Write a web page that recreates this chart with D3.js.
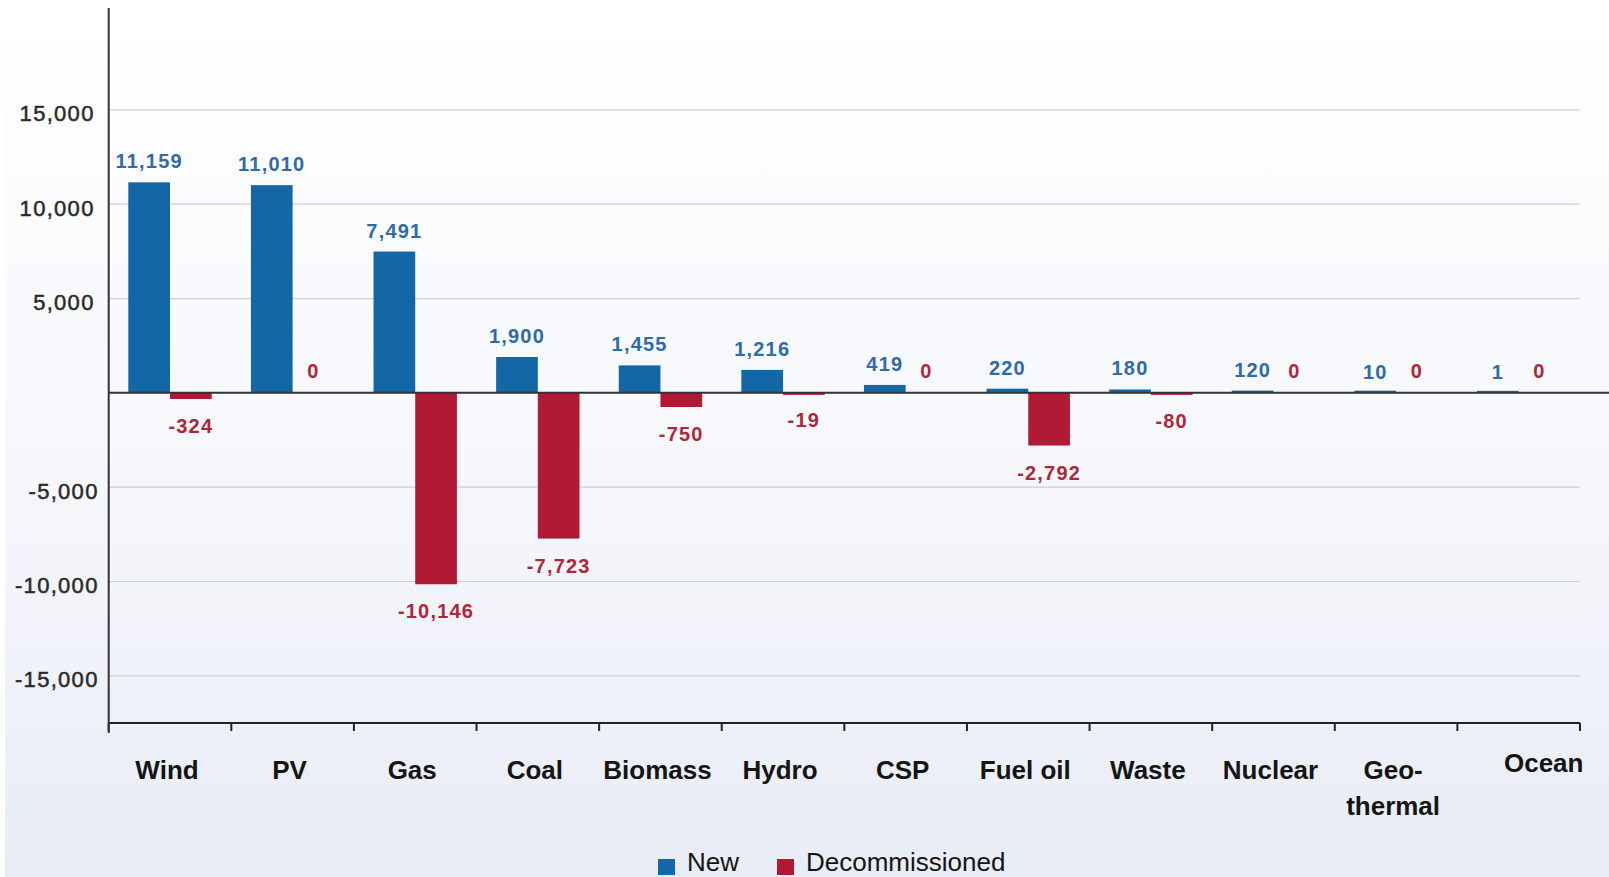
<!DOCTYPE html>
<html>
<head>
<meta charset="utf-8">
<script src="https://cdn.jsdelivr.net/npm/d3@7/dist/d3.min.js"></script>
<style>
  html, body { margin: 0; padding: 0; background: #ffffff; }
  svg { display: block; }
</style>
</head>
<body>
<script>
// ---- data ----
const categories = ["Wind", "PV", "Gas", "Coal", "Biomass", "Hydro", "CSP", "Fuel oil", "Waste", "Nuclear", "Geo-\nthermal", "Ocean"];
const newValues = [11159, 11010, 7491, 1900, 1455, 1216, 419, 220, 180, 120, 10, 1];
const decommissionedValues = [-324, 0, -10146, -7723, -750, -19, 0, -2792, -80, 0, 0, 0];
const tickValues = [-15000, -10000, -5000, 5000, 10000, 15000];
const seriesNames = ["New", "Decommissioned"];

(function () {
// ---- layout ----
const W = 1609, H = 877;
const plotLeft = 108.7, plotRight = 1580, plotTop = 8, plotBottom = 723;
const blue = "#1467a6", red = "#b01a35";
const blueText = "#2e6ba7", redText = "#b02639";
const fmt = d3.formatLocale({ decimal: ".", thousands: ",", grouping: [3], currency: ["", ""], minus: "-" }).format(",");

const svg = d3.select("body").append("svg").attr("width", W).attr("height", H);

const defs = svg.append("defs");
const grad = defs.append("linearGradient").attr("id", "bg").attr("x1", 0).attr("y1", 0).attr("x2", 0).attr("y2", 1);
grad.append("stop").attr("offset", "0").attr("stop-color", "#ffffff");
grad.append("stop").attr("offset", "0.2").attr("stop-color", "#fcfcfe");
grad.append("stop").attr("offset", "0.55").attr("stop-color", "#f5f7fb");
grad.append("stop").attr("offset", "1").attr("stop-color", "#e8ecf5");
svg.append("rect").attr("x", 5).attr("y", 0).attr("width", W - 5).attr("height", H).attr("fill", "url(#bg)");

const y = d3.scaleLinear().domain([-17500, 20400]).range([plotBottom, plotTop]);
const x = d3.scaleBand().domain(categories).range([plotLeft, plotRight]).paddingInner(0).paddingOuter(0);
const bw = x.bandwidth();
const x1 = d3.scaleBand().domain(seriesNames).range([bw * 0.16, bw * 0.84]).padding(0);

// gridlines
svg.append("g").selectAll("line").data(tickValues).join("line")
  .attr("x1", plotLeft).attr("x2", plotRight)
  .attr("y1", d => y(d)).attr("y2", d => y(d))
  .attr("stroke", "#c9cfdb").attr("stroke-width", 1.2);

// y tick labels
svg.append("g").selectAll("text").data(tickValues).join("text")
  .attr("x", d => d > 0 ? plotLeft - 14 : plotLeft - 10)
  .attr("y", d => y(d) + 11.5)
  .attr("text-anchor", "end")
  .attr("font-family", "'Liberation Sans', Arial, sans-serif")
  .attr("font-size", 22)
  .attr("letter-spacing", 1.3)
  .attr("fill", "#2a2a2a")
  .attr("stroke", "#2a2a2a").attr("stroke-width", 0.5)
  .text(d => fmt(d));

// bars
const groups = svg.append("g").selectAll("g").data(categories).join("g")
  .attr("transform", d => `translate(${x(d)},0)`);

groups.append("rect")
  .attr("x", x1("New")).attr("width", x1.bandwidth())
  .attr("y", (d, i) => y(Math.max(0, newValues[i])) - (Math.abs(y(newValues[i]) - y(0)) < 2 ? 2 : 0))
  .attr("height", (d, i) => Math.max(2, Math.abs(y(newValues[i]) - y(0))))
  .attr("fill", blue);

groups.append("rect")
  .attr("x", x1("Decommissioned")).attr("width", x1.bandwidth())
  .attr("y", y(0))
  .attr("height", (d, i) => decommissionedValues[i] < 0 ? Math.max(2, Math.abs(y(decommissionedValues[i]) - y(0))) : 0)
  .attr("fill", red);

// value labels
const labelFont = "'Liberation Sans', Arial, sans-serif";
groups.append("text")
  .attr("x", x1("New") + x1.bandwidth() / 2)
  .attr("y", (d, i) => y(newValues[i]) - 14)
  .attr("text-anchor", "middle")
  .attr("font-family", labelFont).attr("font-weight", "bold").attr("font-size", 20)
  .attr("letter-spacing", 1.2)
  .attr("fill", blueText)
  .text((d, i) => fmt(newValues[i]));

groups.append("text")
  .attr("x", x1("Decommissioned") + x1.bandwidth() / 2)
  .attr("y", (d, i) => decommissionedValues[i] < 0 ? y(decommissionedValues[i]) + 34 : y(0) - 15)
  .attr("text-anchor", "middle")
  .attr("font-family", labelFont).attr("font-weight", "bold").attr("font-size", 20)
  .attr("letter-spacing", 1.2)
  .attr("fill", redText)
  .text((d, i) => fmt(decommissionedValues[i]));

// zero line
svg.append("line")
  .attr("x1", plotLeft).attr("x2", W).attr("y1", y(0)).attr("y2", y(0))
  .attr("stroke", "#333").attr("stroke-width", 2);

// bottom axis
const xAxis = svg.append("g").attr("transform", `translate(0,${plotBottom})`);
xAxis.append("line").attr("x1", plotLeft).attr("x2", plotRight).attr("y1", 0).attr("y2", 0)
  .attr("stroke", "#222").attr("stroke-width", 2);
const tickPositions = categories.map(c => x(c) + bw).concat([plotLeft]);
xAxis.selectAll("line.tick").data(tickPositions).join("line").attr("class", "tick")
  .attr("x1", d => d).attr("x2", d => d).attr("y1", 0).attr("y2", 8)
  .attr("stroke", "#222").attr("stroke-width", 2);

// category labels
const catLabels = svg.append("g").selectAll("text").data(categories).join("text")
  .attr("text-anchor", "middle")
  .attr("font-family", labelFont).attr("font-weight", "bold").attr("font-size", 26)
  .attr("fill", "#151515")
  .attr("transform", (d, i) => {
    const last = i === categories.length - 1;
    return `translate(${x(d) + bw / 2 + (last ? 25 : -3)},${last ? 772 : 779})`;
  });
catLabels.each(function (d) {
  const parts = d.split("\n");
  const t = d3.select(this);
  parts.forEach((p, k) => t.append("tspan").attr("x", 0).attr("dy", k === 0 ? 0 : 36).text(p));
});

// y axis line
svg.append("line").attr("x1", plotLeft).attr("x2", plotLeft).attr("y1", plotTop).attr("y2", plotBottom + 10)
  .attr("stroke", "#333").attr("stroke-width", 2);

// legend
const legend = svg.append("g");
const legendItems = [
  { name: seriesNames[0], color: blue, lx: 658 },
  { name: seriesNames[1], color: red, lx: 777 }
];
legendItems.forEach(it => {
  legend.append("rect").attr("x", it.lx).attr("y", 859).attr("width", 17).attr("height", 16).attr("fill", it.color);
  legend.append("text").attr("x", it.lx + 29).attr("y", 871)
    .attr("font-family", labelFont).attr("font-size", 26).attr("fill", "#151515")
    .text(it.name);
});
})();
</script>
</body>
</html>
